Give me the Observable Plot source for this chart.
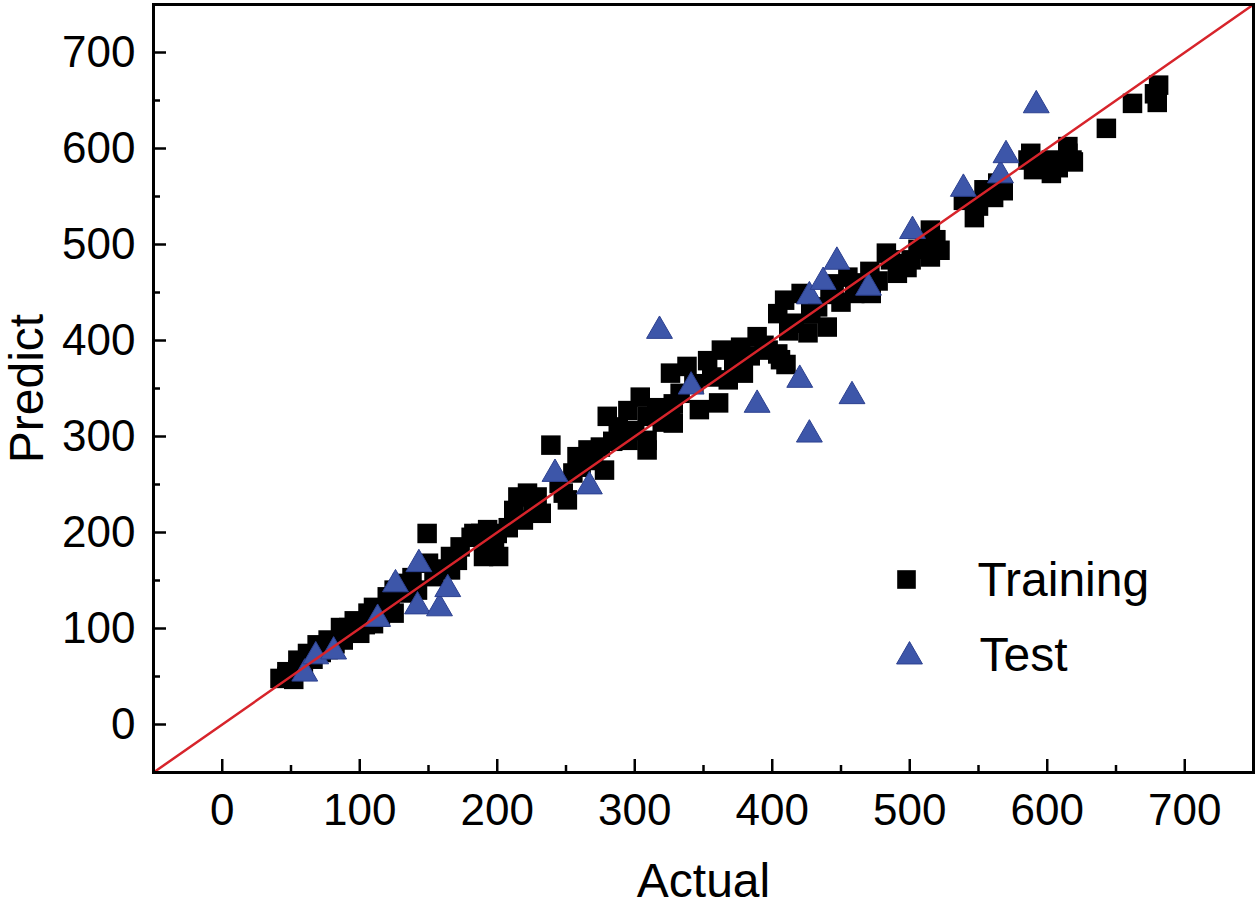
<!DOCTYPE html>
<html><head><meta charset="utf-8">
<script src="https://cdn.jsdelivr.net/npm/d3@7"></script>
<script src="https://cdn.jsdelivr.net/npm/@observablehq/plot@0.6"></script>
<style>body{margin:0;background:#fff} #chart svg{display:block}</style>
</head><body><div id="chart"></div>
<script>
// Training set (Actual, Predict)
const trainingActual = [42,47,47,52,55,55,59,62,66,69,72,77,77,82,86,88,92,96,100,104,106,110,110,115,120,122,125,125,131,135,138,142,149,150,154,158,166,166,171,173,181,183,188,190,193,193,198,201,200,
 208,212,215,219,222,226,229,232,239,245,248,251,255,258,261,266,270,275,278,280,284,288,295,295,300,304,309,309,309,316,320,
 326,326,328,328,333,338,343,347,353,356,361,363,368,372,377,379,384,389,394,397,404,406,409,412,416,421,426,428,433,440,442,445,450,455,460,465,404,410,
 471,472,477,483,486,491,495,498,501,506,511,515,515,519,522,539,547,550,554,561,564,568,
 586,588,590,598,603,603,608,615,615,618,619,643,662,678,680,681];
const trainingPredict = [48,50,55,47,57,67,60,74,68,83,75,78,88,84,101,88,101,108,95,104,116,105,122,112,133,122,116,140,147,137,153,140,199,168,154,162,161,175,171,185,195,199,199,175,203,179,185,175,199,
 205,223,237,213,241,228,237,220,291,251,241,234,262,279,268,286,275,289,265,321,295,310,327,296,306,341,286,321,296,330,315,
 328,366,314,334,345,373,355,328,379,362,335,390,359,378,393,366,384,404,395,390,428,380,442,410,418,449,408,428,435,414,448,459,440,466,449,460,386,375,
 472,449,462,491,484,470,480,476,484,495,500,515,487,505,494,546,528,540,557,549,564,556,
 588,595,578,585,588,574,580,595,602,588,586,621,647,657,648,666];
// Test set (Actual, Predict)
const testActual  = [60,68,81,113,126,142,143,158,164,242,267,318,341,389,420,427,427,437,447,458,470,502,539,566,570,592];
const testPredict = [53,71,76,110,146,123,167,121,141,261,248,410,352,333,359,302,446,461,482,342,455,514,558,572,593,645];
// Axis ticks and labels
const majorTicks = [0,100,200,300,400,500,600,700];
const minorTicks = [50,150,250,350,450,550,650];
const axisDomain = [-50,750];
const seriesNames = ["Training","Test"];
const xTitle = "Actual", yTitle = "Predict";

const training = trainingActual.map((a,i)=>({actual:a, predict:trainingPredict[i]}));
const test = testActual.map((a,i)=>({actual:a, predict:testPredict[i]}));
const identity = axisDomain.map(v=>({actual:v, predict:v}));

const font = "Liberation Sans, Arial, sans-serif";
const blue = "#3d56a9";

const chart = Plot.plot({
  width: 1260, height: 908,
  marginLeft: 153, marginRight: 7, marginTop: 4, marginBottom: 136,
  style: {fontFamily: font, background: "#fff", color: "#000"},
  x: {domain: axisDomain},
  y: {domain: axisDomain},
  marks: [
    Plot.dot(training, {x: "actual", y: "predict", symbol: "square", r: 11, fill: "#000", stroke: "none"}),
    Plot.dot(test, {x: "actual", y: "predict", symbol: "triangle", r: 9.6, fill: blue, stroke: "#2c4090", strokeWidth: 1}),
    Plot.line(identity, {x: "actual", y: "predict", stroke: "#d7242b", strokeWidth: 2.5}),
    Plot.frame({stroke: "#000", strokeWidth: 3}),
    Plot.axisX(majorTicks, {anchor: "bottom", tickSize: -13, tickFormat: () => "", strokeWidth: 2.5, label: null}),
    Plot.axisX(minorTicks, {anchor: "bottom", tickSize: -7, tickFormat: () => "", strokeWidth: 2.5, label: null}),
    Plot.axisX(majorTicks, {anchor: "bottom", tickSize: 0, tickPadding: 21, fontSize: 44, label: null}),
    Plot.axisY(majorTicks, {anchor: "left", tickSize: -13, tickFormat: () => "", strokeWidth: 2.5, label: null}),
    Plot.axisY(minorTicks, {anchor: "left", tickSize: -7, tickFormat: () => "", strokeWidth: 2.5, label: null}),
    Plot.axisY(majorTicks, {anchor: "left", tickSize: 0, tickPadding: 18, fontSize: 44, label: null}),
    Plot.text([xTitle], {frameAnchor: "bottom", lineAnchor: "bottom", dy: 124, fontSize: 48, fill: "#000"}),
    Plot.text([yTitle], {frameAnchor: "left", textAnchor: "middle", lineAnchor: "bottom", rotate: -90, dx: -111, fontSize: 48, fill: "#000"}),
    // legend
    Plot.dot([seriesNames[0]], {frameAnchor: "top-left", dx: 753, dy: 575, symbol: "square", r: 10.5, fill: "#000"}),
    Plot.dot([seriesNames[1]], {frameAnchor: "top-left", dx: 756, dy: 652, symbol: "triangle", r: 9.6, fill: blue, stroke: "#2c4090", strokeWidth: 1}),
    Plot.text([seriesNames[0]], {frameAnchor: "top-left", textAnchor: "start", lineAnchor: "bottom", dx: 824, dy: 591, fontSize: 48, fill: "#000"}),
    Plot.text([seriesNames[1]], {frameAnchor: "top-left", textAnchor: "start", lineAnchor: "bottom", dx: 826, dy: 666, fontSize: 48, fill: "#000"})
  ]
});
document.getElementById("chart").append(chart);
</script>
</body></html>
